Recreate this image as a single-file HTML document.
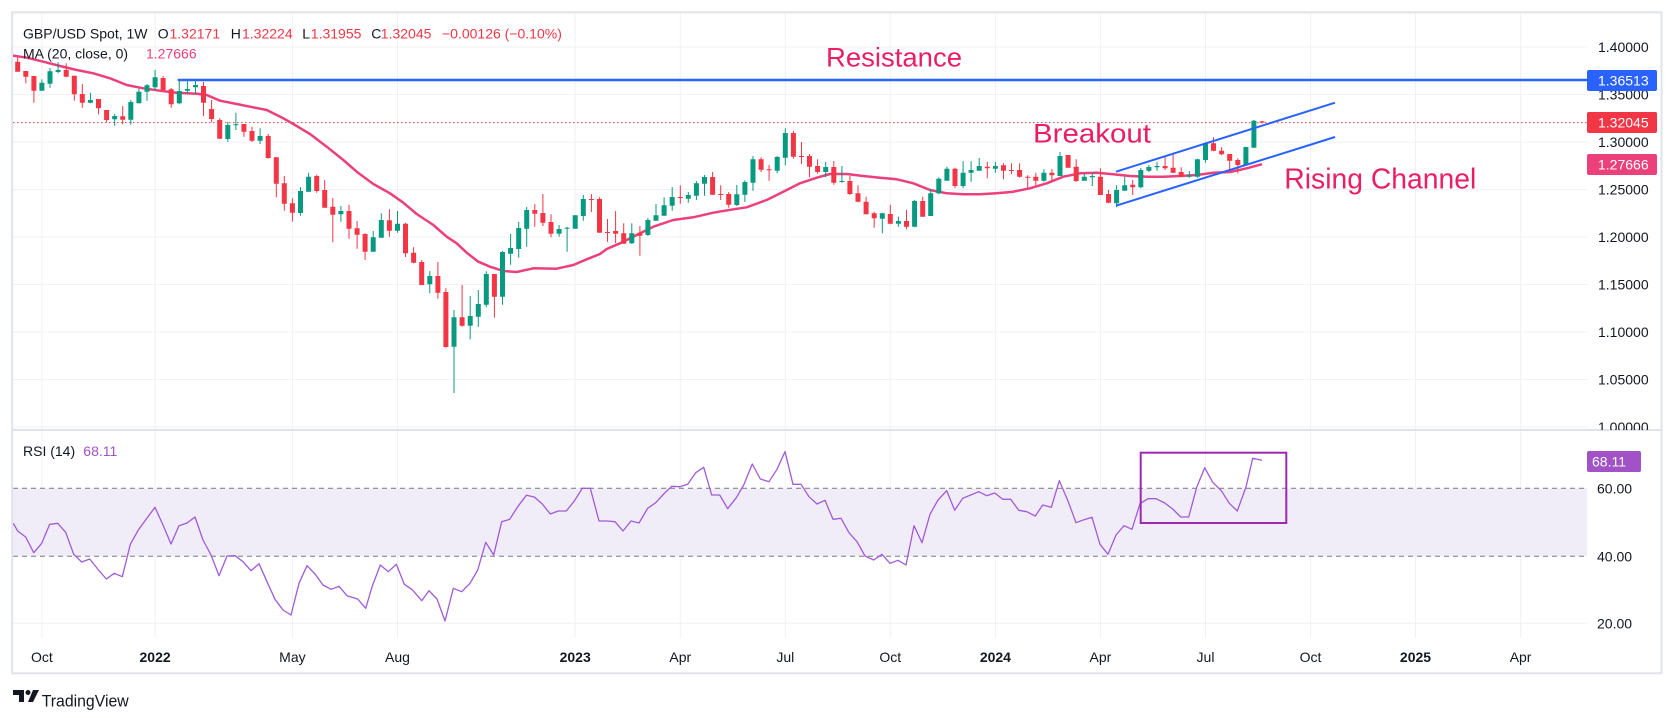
<!DOCTYPE html>
<html><head><meta charset="utf-8"><style>
html,body{margin:0;padding:0;background:#fff;}
svg{display:block;font-family:"Liberation Sans",Arial,sans-serif;}
</style></head><body>
<svg width="1675" height="718" viewBox="0 0 1675 718" xmlns="http://www.w3.org/2000/svg">
<defs>
<clipPath id="cm"><rect x="13" y="13" width="1574" height="417"/></clipPath>
<clipPath id="cr"><rect x="13" y="431" width="1574" height="207"/></clipPath>
<clipPath id="ca"><rect x="1587" y="13" width="74" height="417"/></clipPath>
</defs>
<rect width="1675" height="718" fill="#fff"/>
<!-- vertical grid -->
<g stroke="#f0f1f6" stroke-width="1">
<path d="M41.9,13V638M155.1,13V638M292.4,13V638M397.5,13V638M575.2,13V638M680.3,13V638M785.3,13V638M890.3,13V638M995.4,13V638M1100.4,13V638M1205.5,13V638M1310.5,13V638M1415.5,13V638M1520.6,13V638"/>
<path d="M13,47H1587M13,94.5H1587M13,142H1587M13,189.5H1587M13,237H1587M13,284.5H1587M13,332H1587M13,379.5H1587M13,427H1587M13,623.3H1587"/>
</g>
<!-- RSI band -->
<rect x="13" y="488.3" width="1574" height="68" fill="#f0ecf8"/>
<g stroke="#787b86" stroke-width="1" stroke-dasharray="5,4">
<path d="M13,488.3H1587M13,556.3H1587"/>
</g>
<!-- pane separator & frame -->
<path d="M12,430H1661" stroke="#e0e3eb" stroke-width="2"/>
<rect x="12.2" y="12.3" width="1649.3" height="661" fill="none" stroke="#e0e3eb" stroke-width="2"/>

<g clip-path="url(#cm)">
<!-- current price dotted -->
<path d="M13,122.6H1587" stroke="#f23645" stroke-width="1" stroke-dasharray="1.5,2.5"/>
<!-- resistance -->
<path d="M177.7,80H1587" stroke="#2962ff" stroke-width="2.5"/>
<!-- MA -->
<polyline fill="none" stroke="#ec407a" stroke-width="2.5" stroke-linejoin="round" points="11,55.3 26.7,57.7 43.3,61.7 60,66 76.7,70 93.3,73.3 110,78.3 126.7,85 143.3,88.3 160,90.7 176.7,92.7 196.7,93.7 206.7,95 220,100.7 236.7,104 250,106.7 266.7,110 283.3,118.3 293.3,124 310,134 326.7,146.7 343.3,160 356.7,171.7 373.3,184 390,193.3 403.3,202.7 416.7,214 433.3,225 446.7,236.7 456.7,243.3 466.7,252.7 478.3,261.7 490,266.7 503.3,271 516.7,272 533.3,268.3 556.7,268.7 573.3,265 586.7,259.3 600,254 606.7,249 620,243.3 633.3,236.7 653.3,226.7 673.3,220 693.3,217.3 713.3,212.7 733.3,209.3 746.7,207.3 766.7,200 783.3,191.7 800,183.3 816.7,177.7 830,174 846.7,174 863.3,176 880,177.7 896.7,179.3 913.3,183.3 930,190 946.7,193.3 963.3,194.3 980,194.3 996.7,193.3 1013.3,191.7 1030,188.3 1046.7,183.3 1063.3,176.7 1080,173.3 1096.7,172.7 1113.3,174.3 1130,176 1146.7,176.7 1163.3,176.7 1180,176 1196.7,175 1213.3,172.7 1230,172 1246.7,168.3 1262,164.2"/>
<!-- green wicks -->
<path fill="none" stroke="#089981" stroke-width="1" d="M41.9,79.3V90.7M50,68V87.7M58.1,62.3V73.3M90.4,92.7V103.3M114.7,114V125.7M130.8,100V124.7M138.9,88.7V103.3M147,84V100.7M155.1,70V90M179.3,80V104.3M187.4,80V94M195.5,80V94M227.8,121.7V141.7M235.9,112.7V130M260.1,128.3V144M300.5,187V215.7M308.6,172.7V191.7M340.9,206V221.7M373.2,231V251.7M381.3,213.3V237.7M397.5,211V232.7M429.8,271V293.3M454,310V393M470.2,296V339.3M478.3,290V326.7M486.3,271.3V307.3M502.5,251V304.7M510.6,234V264.7M518.7,222V257.7M526.7,207V246.7M559.1,225V236.7M567.1,226.7V251.7M575.2,215.3V228.7M583.3,195V220.7M631.8,223.3V244M647.9,218V235.7M656,204V220.7M664.1,197.3V215.7M672.2,187V210.7M688.3,192V202.7M696.4,181V200M704.5,175V195.7M736.8,185V206M744.9,180.3V202M753,156V190.7M777.2,156V173.3M785.3,128.3V165.3M825.7,162V177.3M841.9,166V182.7M882.3,212.7V233.3M898.4,216.7V226.7M914.6,200V227.3M930.7,188.7V216M938.8,177.3V194.3M946.9,166.7V180.7M963.1,161.3V188.3M971.1,161.3V181.7M979.2,158V170.7M995.4,161.7V172.7M1043.9,169.3V181.7M1060,152V176M1084.3,173.3V180.7M1092.3,172.7V186M1116.6,185.3V207.3M1124.7,176.7V190.7M1140.8,168V188.3M1148.9,165V172M1157,161.7V170.7M1189.3,171V177.7M1197.4,158.7V177.7M1205.5,142.3V162.7M1245.9,146.7V166M1253.9,120V147.7"/>
<!-- green bodies -->
<path fill="#089981" d="M39.4,82.7h5V90.7h-5zM47.5,71.3h5V83.7h-5zM55.6,70h5V72h-5zM87.9,100h5V102.7h-5zM112.2,116h5V119.3h-5zM128.3,102h5V119.7h-5zM136.4,91.7h5V103.3h-5zM144.5,85.3h5V91.7h-5zM152.6,77.3h5V87.3h-5zM176.8,91h5V103.3h-5zM184.9,89h5V90.7h-5zM193,85h5V87.3h-5zM225.3,125h5V139h-5zM233.4,124.3h5V125.3h-5zM257.6,136h5V140.7h-5zM298,191h5V213h-5zM306.1,176.7h5V191.7h-5zM338.4,211h5V214.3h-5zM370.7,237.3h5V251.7h-5zM378.8,220h5V237.7h-5zM395,223.7h5V230.7h-5zM427.3,276h5V284.3h-5zM451.5,317.3h5V346.7h-5zM467.7,316h5V325.7h-5zM475.8,304h5V316.7h-5zM483.8,274h5V304.7h-5zM500,252h5V296.7h-5zM508.1,248h5V253.7h-5zM516.2,228h5V249h-5zM524.2,210h5V228.7h-5zM556.6,229h5V233.7h-5zM564.6,227.7h5V228.7h-5zM572.7,215.3h5V228.7h-5zM580.8,199h5V216h-5zM629.3,233.3h5V243.3h-5zM645.4,220h5V235h-5zM653.5,215.3h5V220.7h-5zM661.6,205.3h5V215.7h-5zM669.7,197h5V205.7h-5zM685.8,195h5V198.7h-5zM693.9,183.3h5V195.7h-5zM702,177h5V183.7h-5zM734.3,194.3h5V205h-5zM742.4,182h5V194.7h-5zM750.5,159.3h5V182.7h-5zM774.7,157h5V170.7h-5zM782.8,133h5V157.7h-5zM823.2,167h5V172h-5zM839.4,181h5V182h-5zM879.8,213.3h5V218.7h-5zM895.9,221h5V223.7h-5zM912.1,201h5V226.7h-5zM928.2,193.3h5V216h-5zM936.3,178.7h5V193.3h-5zM944.4,168.7h5V180.7h-5zM960.6,172.7h5V186h-5zM968.6,170h5V172.7h-5zM976.7,166h5V170.7h-5zM992.9,166h5V168.7h-5zM1041.4,172.7h5V180.7h-5zM1057.5,156h5V176h-5zM1081.8,176.7h5V180.7h-5zM1089.8,176h5V177.3h-5zM1114.1,190h5V203.3h-5zM1122.2,185.3h5V190.7h-5zM1138.3,170h5V187.3h-5zM1146.4,167h5V170.7h-5zM1154.5,166h5V167.3h-5zM1186.8,175.3h5V176.7h-5zM1194.9,159.3h5V176.7h-5zM1203,143.3h5V160h-5zM1243.4,147h5V165h-5zM1251.4,120.7h5V147.7h-5z"/>
<!-- red wicks -->
<path fill="none" stroke="#f23645" stroke-width="1" d="M17.7,57.3V71.7M25.8,71V83.3M33.9,76V102.7M66.2,63.3V77.3M74.3,75.7V100.7M82.3,84V107.7M98.5,99V114.3M106.6,110V122.3M122.7,106V124.3M163.1,76V90M171.2,88V107.7M203.5,81.7V116M211.6,100V122.3M219.7,118.3V138.7M243.9,124V136.7M252,126.7V142M268.2,134V158.7M276.3,157.3V197.3M284.3,176V210.7M292.4,198.3V221.7M316.7,174.7V192.7M324.7,180V207.7M332.8,198V242.3M349,204.7V238.7M357.1,221V248.7M365.1,233.3V260M389.4,209.3V236.7M405.5,222.7V257M413.6,247.3V263.3M421.7,260V285M437.9,262V298.7M445.9,288.3V347.7M462.1,285V326.7M494.4,274V317.7M534.8,204V226.7M542.9,194V226M551,214.3V237.3M591.4,194V212M599.5,197.3V232.7M607.5,219V241.7M615.6,211V243.3M623.7,223.3V243.7M639.9,226V255.7M680.3,185.3V203.7M712.6,172V194.7M720.7,185.3V200M728.7,192V207.7M761.1,157.3V172M769.1,165V180.7M793.4,130.7V158.7M801.5,142V164M809.5,154V177.3M817.6,159.3V173.7M833.8,161V184.7M849.9,176V195M858,185.3V202.3M866.1,196.7V214.3M874.2,211.7V227.7M890.3,204.7V224.3M906.5,210V229.3M922.7,196.7V216.7M955,167.7V188.3M987.3,161.7V178.3M1003.5,163.3V179.3M1011.5,163.3V174M1019.6,163.3V177.7M1027.7,175.3V188M1035.8,172.7V185.3M1051.9,169.3V181.3M1068.1,155V167.7M1076.2,159.3V181.7M1100.4,168.3V195M1108.5,190V203.3M1132.7,180V195M1165.1,156V170M1173.1,154.3V173.3M1181.2,167.3V177M1213.5,137.3V151.3M1221.6,147.3V155.3M1229.7,154V170M1237.8,158.3V173.3M1262,120.9V123.4"/>
<!-- red bodies -->
<path fill="#f23645" d="M15.2,61.7h5V71.7h-5zM23.3,71h5V76.7h-5zM31.4,76h5V90.7h-5zM63.7,70h5V76.7h-5zM71.8,75.7h5V94.3h-5zM79.8,94h5V102.7h-5zM96,99h5V108.3h-5zM104.1,110h5V120h-5zM120.2,116.3h5V119.7h-5zM160.6,78h5V90h-5zM168.7,89.3h5V104.3h-5zM201,86h5V102.7h-5zM209.1,109h5V119h-5zM217.2,120h5V138.7h-5zM241.4,124h5V131.7h-5zM249.5,131h5V140.7h-5zM265.7,136h5V158h-5zM273.8,157.3h5V183.7h-5zM281.8,183.3h5V203.7h-5zM289.9,203.3h5V212.7h-5zM314.2,176h5V191h-5zM322.2,190h5V207.7h-5zM330.3,206.7h5V214.7h-5zM346.5,211h5V228.7h-5zM354.6,228.3h5V234.7h-5zM362.6,234h5V251.7h-5zM386.9,220.3h5V230.7h-5zM403,223.7h5V253.3h-5zM411.1,252.7h5V262.7h-5zM419.2,262h5V285h-5zM435.4,276h5V292.7h-5zM443.4,292h5V347h-5zM459.6,317.3h5V325.7h-5zM491.9,274h5V296.7h-5zM532.3,210h5V213.7h-5zM540.4,213h5V222.7h-5zM548.5,222h5V233.7h-5zM588.9,199h5V200h-5zM597,199h5V232.7h-5zM605,232h5V233h-5zM613.1,231h5V233.7h-5zM621.2,233.3h5V243.7h-5zM637.4,232.7h5V235.7h-5zM677.8,197h5V198h-5zM710.1,177h5V194.7h-5zM718.2,194h5V195h-5zM726.2,194h5V204.7h-5zM758.6,159.3h5V169.7h-5zM766.6,169.3h5V170.3h-5zM790.9,133h5V156.7h-5zM799,156h5V157h-5zM807,156h5V166.7h-5zM815.1,166h5V172h-5zM831.3,167h5V182.7h-5zM847.4,181h5V194h-5zM855.5,193.3h5V201.7h-5zM863.6,201.7h5V214.3h-5zM871.7,213.3h5V218.3h-5zM887.8,214h5V223.7h-5zM904,221h5V226.7h-5zM920.2,201h5V216.7h-5zM952.5,168.7h5V186h-5zM984.8,166.7h5V168.3h-5zM1001,165.3h5V170.7h-5zM1009,170h5V171h-5zM1017.1,170h5V176.7h-5zM1025.2,176.7h5V177.7h-5zM1033.3,176.7h5V180.7h-5zM1049.4,172.7h5V175.3h-5zM1065.6,155h5V167.7h-5zM1073.7,166.7h5V181h-5zM1097.9,176.7h5V195h-5zM1106,194h5V202.7h-5zM1130.2,184.7h5V187.3h-5zM1162.6,166h5V168.3h-5zM1170.6,167.7h5V172.7h-5zM1178.7,172h5V176.7h-5zM1211,143.3h5V150.7h-5zM1219.1,150.7h5V154.3h-5zM1227.2,154h5V160.7h-5zM1235.3,160h5V165h-5zM1259.5,121.4h5V122.6h-5z"/>
<!-- channel -->
<path d="M1116,171.7L1335,102.7M1116,205.7L1335,137" stroke="#2962ff" stroke-width="2" fill="none"/>
<!-- annotations -->
<g fill="#e91e63">
<text x="826" y="66.7" font-size="27" textLength="136" lengthAdjust="spacingAndGlyphs">Resistance</text>
<text x="1033" y="142.3" font-size="27" textLength="118" lengthAdjust="spacingAndGlyphs">Breakout</text>
<text x="1284.3" y="188.3" font-size="28.5" textLength="192" lengthAdjust="spacingAndGlyphs">Rising Channel</text>
</g>
</g>

<!-- RSI pane -->
<g clip-path="url(#cr)">
<polyline fill="none" stroke="#a15bd6" stroke-width="1.3" stroke-linejoin="round" points="13.3,523.3 17.7,531 25.7,537 33.7,552.7 41.7,543.3 49.7,524.3 57.7,523.3 65.7,532.3 73.7,554.3 81.7,562 89.7,559 97.7,569 106.3,579 114.3,573.3 122.3,576.7 130.3,544.3 138.3,530 146.3,519 155,507.3 163,525 171,544 179,525.7 187,523 195,517 203,540 211,555 219,575.7 227,556 235,555.7 243,561.7 251,570.7 259,563.7 267,581.7 275,599.3 283,610 291,615 299,583.3 307,565.7 315,574 323,585 331,589.3 339,586.3 347,595.7 357.7,599 365.7,608.3 372.3,586 380.3,565 388.3,571.7 396.3,564.3 404.3,584.3 412.3,589.7 421.7,600.7 429,590.7 437,599 445,621 453.3,588.3 461.7,591.7 470,583.3 477.7,570 485.7,542.3 493.7,555 501.7,521.7 509.7,519.3 517.7,506.7 526.3,495.3 534.3,497 542.3,504 550.3,514 558.3,511 566.3,511 574.3,501 582.3,488.3 590.3,488.3 599,521 607,521 615,521.7 623,531 631,521 639,523 647.7,508.3 655.7,502.7 663.7,494 671.7,486.3 679.7,486.7 687.7,484.3 695.7,472.7 703.7,467.3 711.7,495 719.7,495 727.7,508.7 736.3,497.7 743.7,485 752.3,464 760.3,479 769,481.7 777,469.3 785,451.7 793,484.3 801,484.3 809,496.7 817,504 825,500.3 833,519.3 841,518.3 849,532.7 857,541.7 865,556 873.7,560 882,554.3 890,563.3 898,560.3 906,565 914,525.7 922,542.7 930,514.3 938,500 946.7,490.7 954.7,510.3 962.7,498.3 970.7,495 978.7,491.7 986.7,495.7 994.7,493 1002.7,499.3 1010.7,499.3 1018.7,510.3 1026.7,511.7 1035.3,516 1042.7,505 1051.3,507.3 1059.3,480.7 1068,501 1076,522.7 1084,519.7 1092,517.3 1100,544.3 1108,554.3 1116,535 1124,525.7 1132,529.3 1140,503.7 1148,498.7 1156,498.7 1164.7,503 1172.7,509 1180.7,517 1188.7,517 1196.7,487.3 1204.7,467.7 1212.7,482.3 1221.3,490.7 1229.3,503.3 1237.3,511 1246,487 1252.7,458.3 1262,460.3"/>
<rect x="1140.7" y="452.7" width="145.6" height="70.3" fill="none" stroke="#9c27b0" stroke-width="2"/>
</g>

<!-- legends -->
<g font-size="14" fill="#131722">
<text x="23" y="38.3">GBP/USD Spot, 1W</text>
<text x="157.7" y="38.3">O</text><text x="169.5" y="38.3" fill="#f23645">1.32171</text>
<text x="230.8" y="38.3">H</text><text x="242" y="38.3" fill="#f23645">1.32224</text>
<text x="302.3" y="38.3">L</text><text x="310.8" y="38.3" fill="#f23645">1.31955</text>
<text x="371.2" y="38.3">C</text><text x="380.8" y="38.3" fill="#f23645">1.32045</text>
<text x="442" y="38.3" fill="#f23645">−0.00126 (−0.10%)</text>
<text x="23" y="58.5">MA (20, close, 0)</text><text x="146" y="58.5" fill="#ec407a">1.27666</text>
<text x="23" y="456">RSI (14)</text><text x="83.3" y="456" fill="#a052c6">68.11</text>
</g>

<!-- price axis -->
<g font-size="14" fill="#131722" clip-path="url(#ca)">
<text x="1598" y="52">1.40000</text>
<text x="1598" y="99.5">1.35000</text>
<text x="1598" y="147">1.30000</text>
<text x="1598" y="194.5">1.25000</text>
<text x="1598" y="242">1.20000</text>
<text x="1598" y="289.5">1.15000</text>
<text x="1598" y="337">1.10000</text>
<text x="1598" y="384.5">1.05000</text>
<text x="1598" y="432">1.00000</text>
</g>
<g font-size="14" fill="#131722">
<text x="1597" y="493.3">60.00</text>
<text x="1597" y="561.3">40.00</text>
<text x="1597" y="628.3">20.00</text>
</g>
<rect x="1587" y="70" width="70" height="21" rx="2" fill="#2962ff"/>
<rect x="1587" y="112" width="70" height="21" rx="2" fill="#f23645"/>
<rect x="1587" y="154" width="70" height="21" rx="2" fill="#ec407a"/>
<rect x="1587" y="451" width="54" height="21" rx="2" fill="#a052c6"/>
<g font-size="14" fill="#fff">
<text x="1598" y="85.5">1.36513</text>
<text x="1598" y="127.5">1.32045</text>
<text x="1598" y="169.5">1.27666</text>
<text x="1592" y="466.5">68.11</text>
</g>

<!-- time axis -->
<g font-size="14" fill="#131722" text-anchor="middle">
<text x="41.9" y="662">Oct</text>
<text x="155.1" y="662" font-weight="bold">2022</text>
<text x="292.4" y="662">May</text>
<text x="397.5" y="662">Aug</text>
<text x="575.2" y="662" font-weight="bold">2023</text>
<text x="680.3" y="662">Apr</text>
<text x="785.3" y="662">Jul</text>
<text x="890.3" y="662">Oct</text>
<text x="995.4" y="662" font-weight="bold">2024</text>
<text x="1100.4" y="662">Apr</text>
<text x="1205.5" y="662">Jul</text>
<text x="1310.5" y="662">Oct</text>
<text x="1415.5" y="662" font-weight="bold">2025</text>
<text x="1520.6" y="662">Apr</text>
</g>

<!-- TradingView logo -->
<g fill="#131722">
<path d="M13,690h11v12h-5v-7h-6z"/>
<circle cx="28" cy="692.5" r="2.5"/>
<path d="M33,690h6l-6,12h-5z"/>
<text x="41.7" y="706.5" font-size="17" textLength="87" lengthAdjust="spacingAndGlyphs">TradingView</text>
</g>
</svg>
</body></html>
